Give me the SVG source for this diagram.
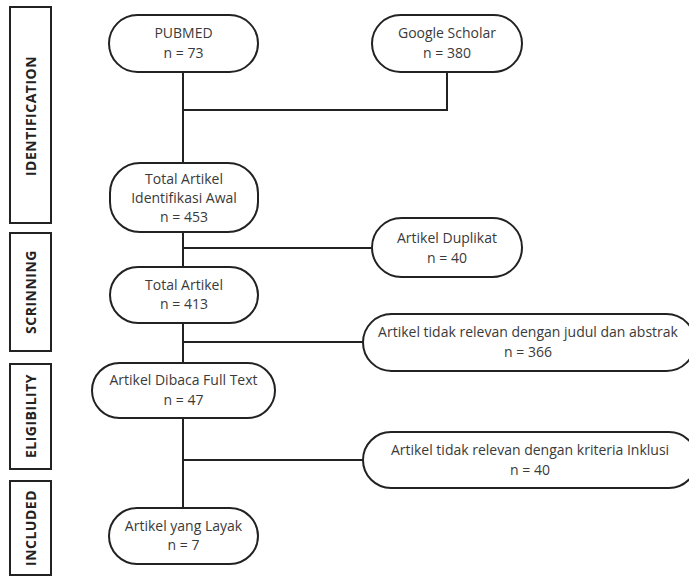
<svg xmlns="http://www.w3.org/2000/svg" width="689" height="576" viewBox="0 0 689 576">
<style>
.box{fill:#fff;stroke:#222;stroke-width:2}
.side{fill:#fff;stroke:#222;stroke-width:2}
.t{font-family:"Open Sans","Noto Sans",sans-serif;font-size:14px;fill:#3a3a3a;text-anchor:middle}
.s{font-family:"Open Sans","Noto Sans",sans-serif;font-size:14px;font-weight:bold;fill:#222;text-anchor:middle;letter-spacing:0.5px}
.c{fill:none;stroke:#222;stroke-width:2}
</style>
<rect width="689" height="576" fill="#fff"/>
<g id="stages">
<rect class="side" x="10" y="7" width="41" height="216"/>
<text class="s" transform="translate(36,116) rotate(-90)">IDENTIFICATION</text>
<rect class="side" x="10" y="233" width="41" height="118"/>
<text class="s" transform="translate(36,292) rotate(-90)">SCRINNING</text>
<rect class="side" x="10" y="364" width="41" height="105"/>
<text class="s" transform="translate(36,416) rotate(-90)">ELIGIBILITY</text>
<rect class="side" x="10" y="481" width="41" height="94"/>
<text class="s" transform="translate(36,528) rotate(-90)">INCLUDED</text>
</g>
<g id="connectors">
<path class="c" d="M183 72 V508"/>
<path class="c" d="M183 110 H447 V72"/>
<path class="c" d="M183 248 H372"/>
<path class="c" d="M183 342 H363"/>
<path class="c" d="M183 460 H363"/>
</g>
<g id="pubmed">
<rect class="box" x="109" y="15" width="149" height="57" rx="28.5"/>
<text class="t" x="183.5" y="38">PUBMED</text>
<text class="t" x="183.5" y="58">n = 73</text>
</g>
<g id="scholar">
<rect class="box" x="372" y="15" width="150" height="57" rx="28.5"/>
<text class="t" x="447" y="38">Google Scholar</text>
<text class="t" x="447" y="58">n = 380</text>
</g>
<g id="total-awal">
<rect class="box" x="110" y="163" width="148" height="69" rx="30"/>
<text class="t" x="184" y="184">Total Artikel</text>
<text class="t" x="184" y="203">Identifikasi Awal</text>
<text class="t" x="184" y="222">n = 453</text>
</g>
<g id="duplikat">
<rect class="box" x="372" y="218" width="150" height="59" rx="29.5"/>
<text class="t" x="447" y="243">Artikel Duplikat</text>
<text class="t" x="447" y="263">n = 40</text>
</g>
<g id="total">
<rect class="box" x="110" y="267" width="148" height="56" rx="28"/>
<text class="t" x="184" y="290">Total Artikel</text>
<text class="t" x="184" y="309">n = 413</text>
</g>
<g id="tidak-relevan-judul">
<rect class="box" x="363" y="314" width="332" height="57" rx="28.5"/>
<text class="t" x="528" y="337">Artikel tidak relevan dengan judul dan abstrak</text>
<text class="t" x="528" y="357">n = 366</text>
</g>
<g id="full-text">
<rect class="box" x="92" y="363" width="183" height="55" rx="27.5"/>
<text class="t" x="183.5" y="385">Artikel Dibaca Full Text</text>
<text class="t" x="183.5" y="405">n = 47</text>
</g>
<g id="tidak-relevan-inklusi">
<rect class="box" x="363" y="432" width="334" height="56" rx="28"/>
<text class="t" x="530" y="455">Artikel tidak relevan dengan kriteria Inklusi</text>
<text class="t" x="530" y="475">n = 40</text>
</g>
<g id="layak">
<rect class="box" x="109" y="508" width="149" height="56" rx="28"/>
<text class="t" x="183.5" y="531">Artikel yang Layak</text>
<text class="t" x="183.5" y="550">n = 7</text>
</g>
</svg>
